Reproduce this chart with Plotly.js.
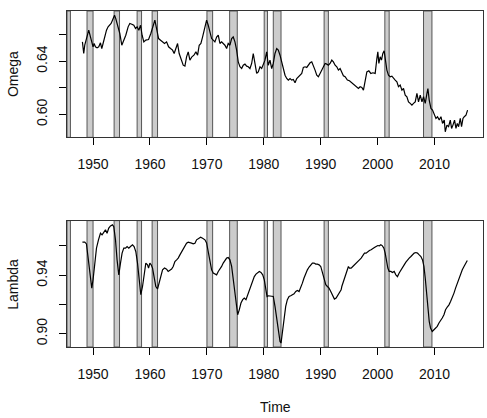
<!DOCTYPE html>
<html>
<head>
<meta charset="utf-8">
<script src="https://cdn.plot.ly/plotly-3.0.1.min.js"></script>
<style>html,body{margin:0;padding:0;background:#fff;}#chart{width:487px;height:418px;}</style>
</head>
<body>
<div id="chart"></div>
<script>
// ---- data ----
const omegaYears = [1948.13,1948.36,1948.54,1948.94,1949.24,1949.54,1949.77,1950.00,1950.18,1950.42,1950.70,1951.00,1951.30,1951.53,1951.76,1952.06,1952.36,1952.64,1952.94,1953.17,1953.41,1953.77,1953.99,1954.29,1954.70,1955.05,1955.40,1955.75,1956.16,1956.46,1956.81,1957.16,1957.46,1957.74,1958.04,1958.34,1958.62,1958.92,1959.27,1959.75,1960.15,1960.56,1960.86,1961.16,1961.51,1961.86,1962.21,1962.56,1962.92,1963.27,1963.62,1963.97,1964.25,1964.55,1964.85,1965.13,1965.48,1965.84,1966.14,1966.43,1966.72,1967.02,1967.37,1967.72,1968.07,1968.37,1968.65,1968.95,1969.25,1969.66,1969.95,1970.24,1970.53,1970.83,1971.12,1971.41,1971.71,1972.00,1972.29,1972.59,1972.87,1973.17,1973.47,1973.75,1974.05,1974.35,1974.63,1974.93,1975.23,1975.51,1975.81,1976.11,1976.39,1976.69,1976.99,1977.27,1977.57,1977.87,1978.15,1978.45,1978.75,1979.03,1979.33,1979.63,1979.91,1980.21,1980.51,1980.79,1981.09,1981.39,1981.67,1981.97,1982.27,1982.55,1982.85,1983.15,1983.43,1983.73,1984.03,1984.31,1984.61,1984.91,1985.19,1985.49,1985.79,1986.07,1986.37,1986.67,1986.95,1987.25,1987.55,1987.83,1988.13,1988.43,1988.71,1989.01,1989.31,1989.59,1989.89,1990.19,1990.47,1990.77,1991.07,1991.35,1991.65,1991.95,1992.23,1992.53,1992.83,1993.11,1993.41,1993.71,1993.99,1994.29,1994.69,1995.05,1995.47,1995.87,1996.35,1996.63,1996.93,1997.23,1997.51,1997.81,1998.11,1998.46,1998.81,1999.16,1999.57,1999.87,2000.04,2000.22,2000.45,2000.68,2000.92,2001.15,2001.38,2001.63,2001.91,2002.21,2002.51,2002.79,2003.09,2003.39,2003.67,2003.97,2004.27,2004.55,2004.85,2005.15,2005.43,2005.73,2006.03,2006.31,2006.61,2006.91,2007.19,2007.49,2007.79,2008.07,2008.37,2008.67,2008.84,2009.07,2009.37,2009.65,2009.95,2010.25,2010.53,2010.83,2011.13,2011.41,2011.71,2011.89,2012.18,2012.47,2012.77,2013.00,2013.24,2013.52,2013.77,2014.00,2014.23,2014.53,2014.75,2015.00,2015.23,2015.53,2015.81];
const omega = [0.6545,0.6458,0.652,0.6582,0.6633,0.6582,0.6545,0.6508,0.6533,0.6508,0.650,0.6508,0.6538,0.6495,0.6533,0.6595,0.6633,0.6658,0.667,0.6683,0.6708,0.6745,0.672,0.667,0.6608,0.652,0.6558,0.6595,0.6658,0.6683,0.6678,0.667,0.6645,0.6658,0.6633,0.667,0.6595,0.6545,0.6558,0.6563,0.6608,0.6658,0.6708,0.6645,0.657,0.6558,0.6545,0.6533,0.6545,0.6508,0.6495,0.6483,0.6458,0.6495,0.6533,0.6458,0.642,0.637,0.6363,0.6433,0.647,0.6408,0.6433,0.6445,0.647,0.6445,0.652,0.6533,0.6582,0.665,0.6708,0.667,0.6608,0.657,0.6558,0.6545,0.6582,0.6595,0.6533,0.6545,0.6533,0.652,0.6495,0.6533,0.652,0.657,0.6582,0.6545,0.6483,0.6395,0.6358,0.6345,0.637,0.6378,0.6363,0.6358,0.6345,0.6383,0.6458,0.637,0.6308,0.632,0.6358,0.6345,0.6383,0.6408,0.647,0.637,0.6408,0.6345,0.6383,0.6458,0.6495,0.6483,0.6445,0.6395,0.6345,0.6295,0.627,0.6258,0.627,0.6258,0.6263,0.6238,0.627,0.6283,0.6295,0.6308,0.6353,0.6358,0.6353,0.637,0.6388,0.6395,0.637,0.6333,0.6295,0.6283,0.6308,0.6333,0.6358,0.6383,0.6378,0.637,0.6383,0.6408,0.6395,0.637,0.6358,0.6333,0.6345,0.6308,0.629,0.6283,0.6258,0.6253,0.6238,0.6228,0.6208,0.6195,0.6208,0.6203,0.6183,0.6245,0.632,0.6328,0.6308,0.6313,0.6308,0.642,0.647,0.6383,0.6433,0.6408,0.6458,0.6478,0.6383,0.6333,0.6295,0.6283,0.6288,0.627,0.6258,0.6245,0.6208,0.622,0.6183,0.6195,0.6145,0.6133,0.6095,0.6083,0.607,0.6083,0.6095,0.6158,0.6095,0.6145,0.6095,0.6133,0.6083,0.6158,0.6195,0.6108,0.6045,0.6033,0.5995,0.597,0.5983,0.5958,0.5983,0.5933,0.5958,0.587,0.592,0.5908,0.5958,0.5895,0.592,0.5958,0.5895,0.5933,0.5908,0.597,0.5908,0.597,0.5983,0.5995,0.6033];

const lambdaYears = [1948.13,1948.54,1948.84,1949.12,1949.42,1949.77,1950.00,1950.30,1950.60,1950.95,1951.30,1951.58,1951.88,1952.18,1952.46,1952.76,1953.06,1953.41,1953.64,1953.94,1954.22,1954.52,1954.82,1955.10,1955.40,1955.70,1955.98,1956.28,1956.58,1956.93,1957.21,1957.51,1957.81,1958.09,1958.39,1958.69,1958.97,1959.27,1959.57,1959.75,1959.98,1960.21,1960.45,1960.73,1961.03,1961.33,1961.61,1961.91,1962.21,1962.56,1962.92,1963.20,1963.50,1963.80,1964.08,1964.38,1964.68,1964.96,1965.26,1965.56,1965.84,1966.14,1966.43,1966.72,1967.02,1967.31,1967.60,1967.90,1968.19,1968.55,1968.90,1969.25,1969.66,1969.95,1970.24,1970.53,1970.83,1971.12,1971.41,1971.71,1972.00,1972.29,1972.59,1972.87,1973.17,1973.47,1973.75,1974.05,1974.35,1974.63,1974.93,1975.23,1975.41,1975.69,1975.99,1976.29,1976.57,1976.87,1977.17,1977.45,1977.75,1978.05,1978.33,1978.63,1978.93,1979.21,1979.51,1979.81,1980.09,1980.34,1980.57,1980.79,1981.09,1981.39,1981.67,1981.97,1982.27,1982.55,1982.85,1983.03,1983.26,1983.56,1983.85,1984.14,1984.44,1984.73,1985.02,1985.32,1985.62,1985.90,1986.20,1986.49,1986.78,1987.07,1987.37,1987.66,1987.96,1988.25,1988.54,1988.83,1989.13,1989.42,1989.72,1990.01,1990.30,1990.59,1990.89,1991.18,1991.47,1991.77,1992.05,1992.41,1992.71,1993.01,1993.29,1993.59,1993.71,1993.99,1994.29,1994.59,1994.87,1995.05,1995.35,1995.64,1995.93,1996.23,1996.52,1996.81,1997.11,1997.40,1997.69,1997.98,1998.28,1998.56,1998.86,1999.16,1999.44,1999.74,2000.04,2000.32,2000.57,2000.85,2001.10,2001.33,2001.56,2001.80,2002.03,2002.33,2002.61,2002.91,2003.21,2003.49,2003.79,2004.09,2004.37,2004.67,2004.97,2005.25,2005.55,2005.85,2006.13,2006.43,2006.73,2007.01,2007.31,2007.61,2007.89,2008.14,2008.37,2008.60,2008.84,2009.07,2009.30,2009.60,2009.90,2010.18,2010.48,2010.78,2011.06,2011.36,2011.66,2011.94,2012.24,2012.54,2012.82,2013.12,2013.42,2013.70,2014.00,2014.30,2014.58,2014.88,2015.18,2015.46,2015.76];
const lambda = [0.9625,0.9625,0.9613,0.9527,0.9414,0.9311,0.9368,0.9504,0.9584,0.9641,0.9686,0.9675,0.9691,0.9709,0.9686,0.9721,0.9736,0.9743,0.9731,0.9641,0.9504,0.9402,0.9482,0.955,0.9584,0.9584,0.9595,0.9584,0.9595,0.9607,0.9595,0.9561,0.9482,0.9356,0.9266,0.9322,0.9414,0.9482,0.947,0.9448,0.9482,0.947,0.9448,0.938,0.9322,0.9305,0.9345,0.9402,0.9436,0.9448,0.9441,0.9425,0.9436,0.9441,0.9459,0.9493,0.9504,0.9516,0.9538,0.9561,0.9573,0.9595,0.9618,0.9625,0.9623,0.9618,0.9613,0.9618,0.9641,0.9652,0.9659,0.9652,0.9641,0.962,0.955,0.9493,0.9436,0.9414,0.9409,0.9402,0.9425,0.9441,0.9459,0.9482,0.9504,0.9516,0.952,0.9504,0.9459,0.938,0.9277,0.9186,0.9129,0.9163,0.9209,0.9232,0.9243,0.9232,0.9266,0.9288,0.9322,0.9356,0.939,0.9407,0.9414,0.9425,0.9418,0.9402,0.9368,0.93,0.9254,0.9259,0.9259,0.9259,0.9254,0.9186,0.9107,0.9027,0.8947,0.8936,0.9004,0.9095,0.9186,0.9232,0.9254,0.9259,0.9266,0.9272,0.9288,0.9295,0.9288,0.9311,0.9345,0.938,0.9414,0.9436,0.9455,0.947,0.9482,0.9482,0.9475,0.9475,0.947,0.9459,0.9414,0.9368,0.9334,0.9322,0.9311,0.9288,0.9266,0.9236,0.9243,0.9266,0.9288,0.93,0.9322,0.9356,0.939,0.9425,0.9459,0.9448,0.9448,0.9459,0.947,0.9482,0.9486,0.9504,0.9516,0.9538,0.955,0.955,0.9561,0.9568,0.9573,0.9584,0.9588,0.9595,0.9602,0.96,0.9607,0.96,0.9584,0.955,0.9493,0.9448,0.9425,0.9425,0.9418,0.9425,0.9402,0.939,0.9414,0.9436,0.9455,0.947,0.9489,0.9504,0.9516,0.9527,0.9538,0.955,0.9554,0.955,0.9538,0.9527,0.9504,0.9459,0.938,0.9266,0.9163,0.9084,0.9039,0.9015,0.9027,0.9039,0.905,0.9073,0.9095,0.9107,0.9129,0.9163,0.9182,0.9197,0.922,0.9243,0.9277,0.9311,0.9345,0.938,0.9414,0.9436,0.9459,0.9482,0.95];

// recession periods (shaded bands)
const recStart = [1945.10,1948.94,1953.70,1957.74,1960.38,1970.01,1974.00,1980.07,1981.67,1990.60,2001.27,2008.07];
const recEnd   = [1946.02,1950.00,1954.65,1958.52,1961.33,1971.01,1975.34,1980.65,1983.03,1991.35,2002.03,2009.55];

const xTicks = [1950,1960,1970,1980,1990,2000,2010];
const omegaTicks = [0.60,0.62,0.64,0.66];
const omegaTickText = ['0.60','','0.64',''];
const lambdaTicks = [0.90,0.92,0.94,0.96];
const lambdaTickText = ['0.90','','0.94',''];

// ---- figure ----
const xRange = [1945.42, 2018.52];
const font = {family: 'Liberation Sans, Arial, sans-serif', size: 14, color: '#111'};

const shapes = [];
['x','x2'].forEach((xr, k) => {
  const yr = k === 0 ? 'y domain' : 'y2 domain';
  for (let i = 0; i < recStart.length; i++) {
    shapes.push({type:'rect', xref: xr, yref: yr,
      x0: Math.max(recStart[i], xRange[0]), x1: recEnd[i], y0: 0, y1: 1,
      fillcolor: '#cccccc', line: {color: '#555555', width: 1}, layer: 'below'});
  }
});

const traces = [
  {x: omegaYears, y: omega, type: 'scatter', mode: 'lines', xaxis: 'x', yaxis: 'y',
   line: {color: '#000', width: 1.2}, hoverinfo: 'skip'},
  {x: lambdaYears, y: lambda, type: 'scatter', mode: 'lines', xaxis: 'x2', yaxis: 'y2',
   line: {color: '#000', width: 1.2}, hoverinfo: 'skip'}
];

const xBase = {range: xRange, tickvals: xTicks, ticktext: xTicks.map(String), ticks: 'outside', ticklen: 7,
  tickcolor: '#000', showline: true, mirror: true, linecolor: '#333', linewidth: 1, showgrid: false,
  zeroline: false, tickfont: font, fixedrange: true, ticklabelstandoff: 7};
const yBase = {ticks: 'outside', ticklen: 7, tickcolor: '#000', showline: true, mirror: true,
  linecolor: '#333', linewidth: 1, showgrid: false, zeroline: false, tickangle: -90, tickfont: font,
  fixedrange: true, ticklabelstandoff: 6};

const layout = {
  width: 487, height: 418,
  margin: {l: 67, r: 4, t: 11, b: 71},
  paper_bgcolor: '#fff', plot_bgcolor: '#fff',
  showlegend: false,
  font: font,
  xaxis: Object.assign({}, xBase, {anchor: 'y', domain: [0, 1]}),
  yaxis: Object.assign({}, yBase, {anchor: 'x', domain: [0.6239, 1], range: [0.5828, 0.6777],
    tickvals: omegaTicks, ticktext: omegaTickText}),
  xaxis2: Object.assign({}, xBase, {anchor: 'y2', domain: [0, 1]}),
  yaxis2: Object.assign({}, yBase, {anchor: 'x2', domain: [0, 0.3761], range: [0.8909, 0.9772],
    tickvals: lambdaTicks, ticktext: lambdaTickText}),
  shapes: shapes,
  annotations: [
    {text: 'Omega', xref: 'paper', yref: 'paper', x: -0.13, y: 0.8120, textangle: -90,
     showarrow: false, font: font, xanchor: 'center', yanchor: 'middle'},
    {text: 'Lambda', xref: 'paper', yref: 'paper', x: -0.13, y: 0.1880, textangle: -90,
     showarrow: false, font: font, xanchor: 'center', yanchor: 'middle'},
    {text: 'Time', xref: 'paper', yref: 'paper', x: 0.5, y: -0.1774,
     showarrow: false, font: font, xanchor: 'center', yanchor: 'middle'}
  ]
};

Plotly.newPlot('chart', traces, layout, {displayModeBar: false, staticPlot: true});
</script>
</body>
</html>
